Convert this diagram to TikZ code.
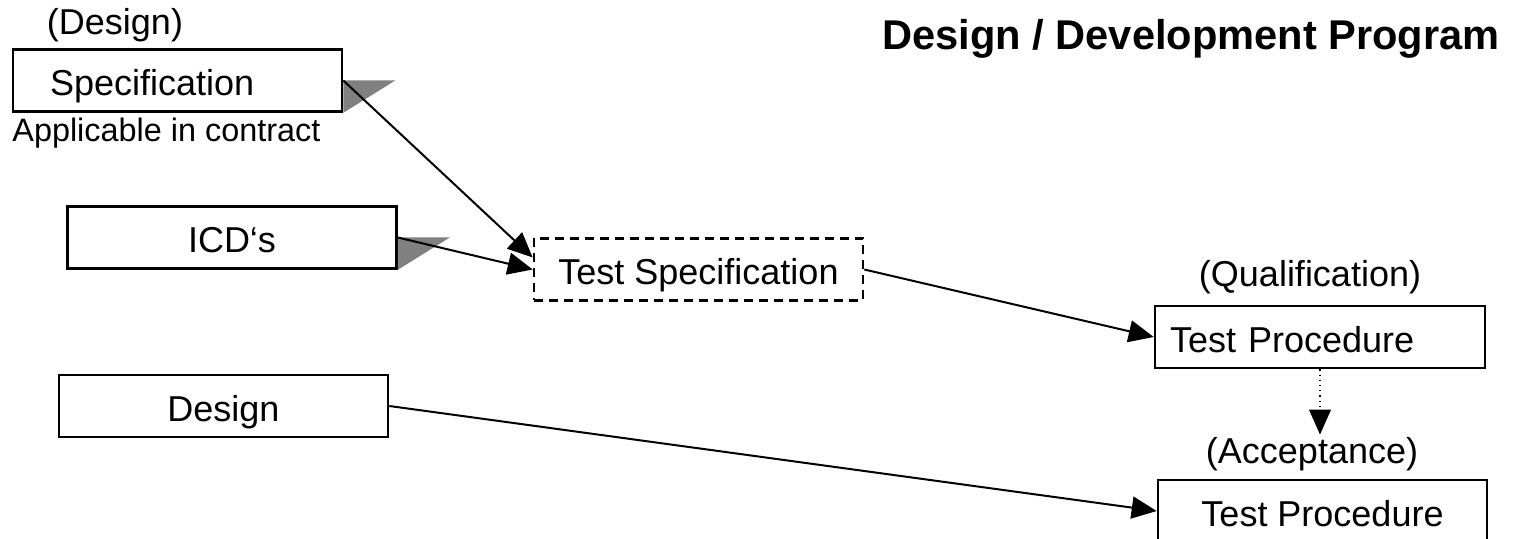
\documentclass[tikz,border=0pt]{standalone}
\usepackage{fontspec}
\setmainfont{Liberation Sans}
\usetikzlibrary{arrows.meta}
\tikzset{
    % Boxes
    box/.style={draw, line width=1.3pt, minimum width=164.5pt, minimum height=31pt,
        inner sep=0pt, text height=15pt, text depth=0pt,
        font=\fontsize{18}{21}\selectfont},
    left box/.style 2 args={box, inner xsep=#1, text width=#2, align=left},
    dashed box/.style={box, dash pattern=on 4.5pt off 3pt},
    shadow tip/.style={fill=black!50, draw=none},
    %
    % Texts
    phase label/.style={font=\fontsize{18}{21}\selectfont, inner sep=1pt, anchor=base},
    note label/.style={font=\fontsize{16.2}{19}\selectfont, inner sep=0pt, anchor=base west},
    title label/.style={font=\bfseries\fontsize{20.8}{24}\selectfont, anchor=base},
    %
    % Arrows
    arrow tip/.tip={Triangle[length=12.5pt,width=11pt]},
    arr/.style={-{arrow tip}, line width=1pt},
    dotarr/.style={arr, line width=0.6pt, dotted}
}

\begin{document}
\begin{tikzpicture}[x=0.5pt, y=-0.5pt]
    \useasboundingbox (0,0) rectangle (1513,539);

    % left column
    \node[phase label] (designlbl) at (115,35) {(Design)};
    \node[left box={18.5pt}{127.5pt}] (spec) at (177.5,80.5) {Specification};
    \node[note label] (contract) at (12,142) {Applicable in contract};
    \node[box] (icd) at (232,237.5) {ICD‘s};
    \node[box] (design) at (223.5,406) {Design};

    \fill[shadow tip] (spec.east) -- ++(52,0) -- (spec.south east) -- cycle;
    \fill[shadow tip] (icd.east) -- ++(52,0) -- (icd.south east) -- cycle;

    % middle and right
    \node[dashed box] (ts) at (698.5,269.5) {Test Specification};
    \node[phase label] (qual) at (1310,287) {(Qualification)};
    \node[left box={7.5pt}{150pt}] (tp1) at (1320,337) {Test Procedure};
    \node[phase label] (acc) at (1312,463) {(Acceptance)};
    \node[box] (tp2) at (1322.5,511) {Test Procedure};

    \node[title label] (title) at (1191,50) {Design / Development Program};

    % connectors
    \draw[arr] (spec.east) -- ([yshift=6pt]ts.west);
    \draw[arr] (icd.east) -- (ts.west);
    \draw[arr] (ts.east) -- (tp1.west);
    \draw[arr] (design.east) -- (tp2.west);
    \draw[dotarr] (tp1.south) -- (tp1.south |- acc.north);
\end{tikzpicture}
\end{document}
